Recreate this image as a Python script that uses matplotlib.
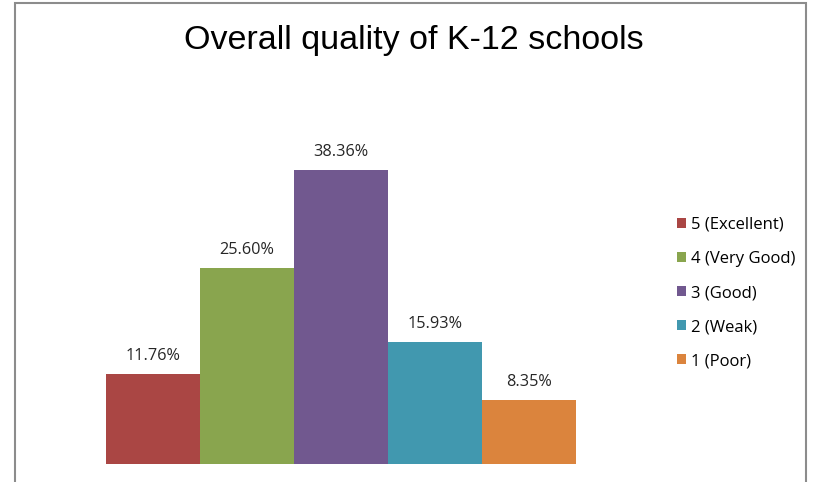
import matplotlib.pyplot as plt
from matplotlib.patches import Rectangle

categories = ['5 (Excellent)', '4 (Very Good)', '3 (Good)', '2 (Weak)', '1 (Poor)']
values = [11.76, 25.60, 38.36, 15.93, 8.35]
labels = ['11.76%', '25.60%', '38.36%', '15.93%', '8.35%']
colors = ['#AA4644', '#89A54E', '#71588F', '#4198AF', '#DB843D']

W, H = 817, 482
fig = plt.figure(figsize=(W / 100, H / 100), dpi=100)

# chart frame (grey border, bottom cut off)
fig.patches.append(Rectangle((15 / W, -0.05), (806 - 15) / W, 1.05 - 3 / H,
                             transform=fig.transFigure, fill=False,
                             edgecolor='#8c8c8c', linewidth=1.5))

# plot area: bars span x 106..576, baseline y 464
ax = fig.add_axes([106 / W, 1 - 464 / H, (576 - 106) / W, (464 - 119) / H])
x = range(len(values))
bars = ax.bar(x, values, width=1.0, color=colors, label=categories)
ax.set_xlim(-0.5, 4.5)
ax.set_ylim(0, 45)
for spine in ax.spines.values():
    spine.set_visible(False)
ax.set_xticks([])
ax.set_yticks([])

for xi, v, lab in zip(x, values, labels):
    ax.annotate(lab, (xi, v), xytext=(0, 7), textcoords='offset points',
                ha='center', va='bottom', fontsize=11.7, color='#262626',
                family='Open Sans')

fig.text(414 / W, 1 - 41 / H, 'Overall quality of K-12 schools',
         ha='center', va='center', fontsize=24.5, family='Liberation Sans')

leg = fig.legend(handles=bars, labels=categories, loc='center left',
                 bbox_to_anchor=(662 / W, 1 - 293 / H), frameon=False,
                 handlelength=0.55, handleheight=0.55,
                 handletextpad=0.3, labelspacing=1.08,
                 prop={'family': 'Open Sans', 'size': 12})

fig.savefig('out.png', dpi=100)
